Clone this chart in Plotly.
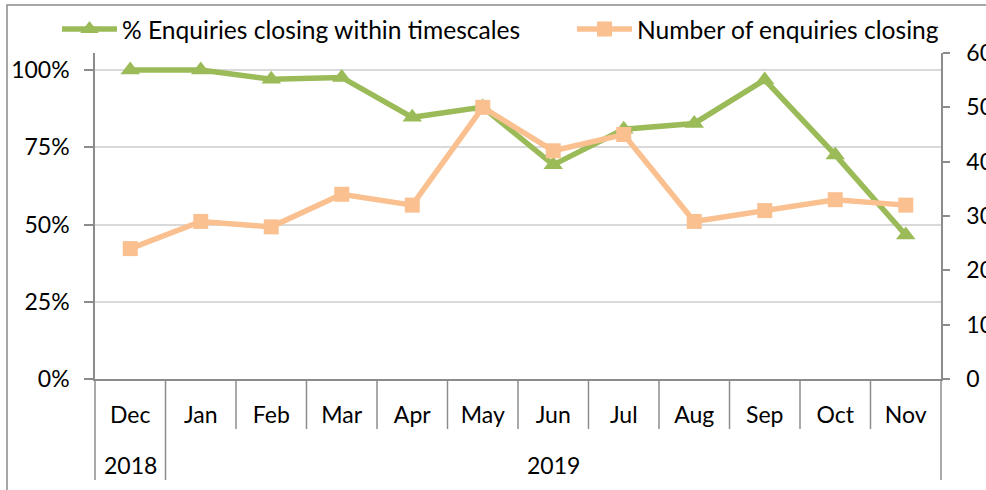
import plotly.graph_objects as go

months = ["Dec", "Jan", "Feb", "Mar", "Apr", "May", "Jun", "Jul", "Aug", "Sep", "Oct", "Nov"]
years = ["2018", "2019"]
year_start_idx = [0, 1]
year_end_idx = [0, 11]
pct_within = [1.00, 1.00, 0.97, 0.976, 0.847, 0.88, 0.693, 0.808, 0.827, 0.968, 0.725, 0.466]
num_closing = [24, 29, 28, 34, 32, 50, 42, 45, 29, 31, 33, 32]

GREEN = "#9BBB59"
ORANGE = "#FAC090"
AXIS = "#8C8C8C"
GRID = "#D9D9D9"
FONT = "Lato"
FS = 23

x = list(range(len(months)))

fig = go.Figure()
fig.add_trace(go.Scatter(
    x=x, y=pct_within, name="% Enquiries closing within timescales",
    mode="lines+markers", line=dict(color=GREEN, width=5.5),
    marker=dict(symbol="triangle-up", size=17, color=GREEN), yaxis="y", legend="legend"))
fig.add_trace(go.Scatter(
    x=x, y=num_closing, name="Number of enquiries closing",
    mode="lines+markers", line=dict(color=ORANGE, width=5.5),
    marker=dict(symbol="square", size=15, color=ORANGE), yaxis="y2", legend="legend2"))

# paper coordinate helpers based on the plot area geometry
L, R, T, B = 95, 45, 53, 111
W, H = 986, 490
pw, ph = W - L - R, H - T - B

def py(pix):
    return (H - B - pix) / ph

def px(pix):
    return (pix - L) / pw

shapes = []
# month dividers
for k in range(len(months) - 1):
    bottom = 480 if (k + 1) in year_start_idx else 429
    shapes.append(dict(type="line", xref="x", yref="paper", x0=k + 0.5, x1=k + 0.5,
                       y0=0, y1=py(bottom), line=dict(color=AXIS, width=1.5)))
# axis extensions down through the label area
shapes.append(dict(type="line", xref="paper", yref="paper", x0=0, x1=0, y0=0, y1=py(480),
                   line=dict(color=AXIS, width=1.5)))
shapes.append(dict(type="line", xref="paper", yref="paper", x0=1, x1=1, y0=0, y1=py(480),
                   line=dict(color=AXIS, width=1.5)))
# outer chart border
shapes.append(dict(type="rect", xref="paper", yref="paper", x0=px(7), x1=px(1000),
                   y0=py(505), y1=py(5), line=dict(color="#8A8A8A", width=1.5)))

annotations = []
for yr, s, e in zip(years, year_start_idx, year_end_idx):
    annotations.append(dict(text=yr, xref="x", yref="paper", x=(s + e) / 2, y=py(465),
                            yanchor="middle", xanchor="center",
                            showarrow=False, font=dict(family=FONT, size=FS, color="#000")))

legend_common = dict(orientation="h", xanchor="left", yanchor="middle", y=py(29),
                     font=dict(family=FONT, size=24.6, color="#000"), itemwidth=55,
                     bgcolor="rgba(0,0,0,0)")

fig.update_layout(
    width=W, height=H,
    margin=dict(l=L, r=R, t=T, b=B, pad=0, autoexpand=False),
    paper_bgcolor="white", plot_bgcolor="white",
    font=dict(family=FONT, size=FS, color="#000"),
    showlegend=True,
    legend=dict(x=px(57), **legend_common),
    legend2=dict(x=px(572), **legend_common),
    xaxis=dict(range=[-0.5, len(months) - 0.5], tickmode="array", tickvals=x, ticktext=months,
               showgrid=False, zeroline=False, showline=True, linecolor=AXIS, linewidth=1.5,
               ticks="", ticklabelstandoff=15, tickfont=dict(family=FONT, size=FS)),
    yaxis=dict(range=[0, 1.055], tickvals=[0, 0.25, 0.5, 0.75, 1.0], tickformat=".0%",
               showgrid=True, gridcolor=GRID, gridwidth=1.5, zeroline=False,
               showline=True, linecolor=AXIS, linewidth=1.5, ticks="outside", ticklen=9,
               tickcolor=AXIS, tickwidth=1.5, ticklabelstandoff=10,
               tickfont=dict(family=FONT, size=FS)),
    yaxis2=dict(range=[0, 60], tickvals=[0, 10, 20, 30, 40, 50, 60], overlaying="y", side="right",
                showgrid=False, zeroline=False, showline=True, linecolor=AXIS, linewidth=1.5,
                ticks="outside", ticklen=7, tickcolor=AXIS, tickwidth=1.5, ticklabelstandoff=12,
                tickfont=dict(family=FONT, size=FS)),
    shapes=shapes, annotations=annotations,
)

fig.write_html("out.html", config={"displayModeBar": False},
               post_script="document.body.style.margin='0';")
